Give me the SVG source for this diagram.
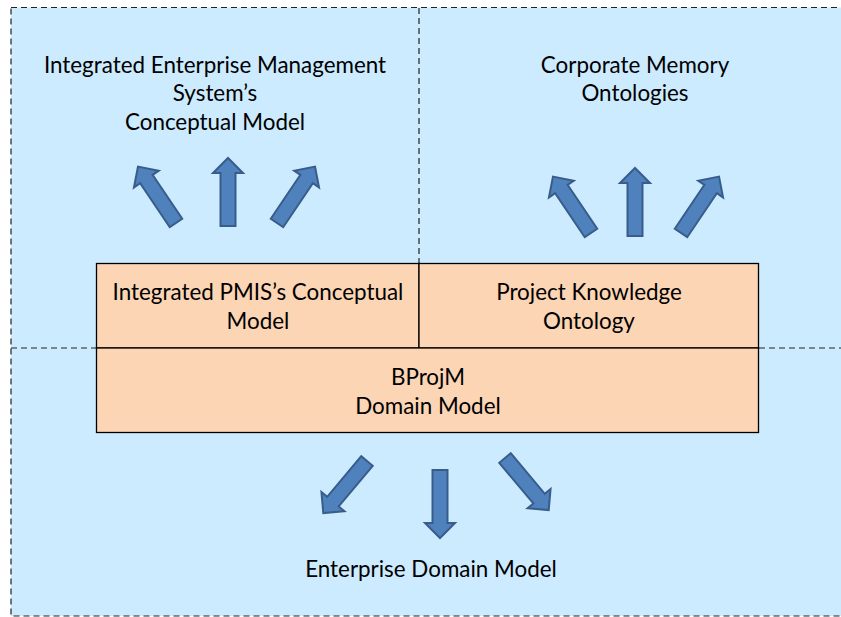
<svg xmlns="http://www.w3.org/2000/svg" width="841" height="617" viewBox="0 0 841 617">
<style>
.dash{fill:none;stroke:#222;stroke-width:1.2;stroke-dasharray:6 4}
.box{fill:#FCD5B5;stroke:#000;stroke-width:1.3}
.t{font-family:Lato,"Open Sans",sans-serif;font-size:22.4px;fill:#000;text-anchor:middle}
.arr{fill:#4F81BD;stroke:#385D8A;stroke-width:2;stroke-linejoin:miter}
</style>
<defs>
<path id="a" class="arr" d="M-7.5,0 L-7.5,-53 L-15,-53 L0,-68 L15,-53 L7.5,-53 L7.5,0 Z"/>
</defs>
<g id="background">
<rect x="11" y="7.5" width="840" height="608.5" class="dash" style="fill:#CCEBFF"/>
<line class="dash" x1="419" y1="8" x2="419" y2="263"/>
<line class="dash" x1="11" y1="348" x2="96" y2="348"/>
<line class="dash" x1="759" y1="348" x2="841" y2="348"/>
</g>
<g id="iems">
<text class="t" x="215" y="73">Integrated Enterprise Management</text>
<text class="t" x="215" y="101">System’s</text>
<text class="t" x="215" y="130">Conceptual Model</text>
</g>
<g id="cmo">
<text class="t" x="635" y="73">Corporate Memory</text>
<text class="t" x="635" y="101">Ontologies</text>
</g>
<g id="pmis">
<rect class="box" x="96.5" y="263.5" width="322.5" height="84.5"/>
<text class="t" x="258" y="300">Integrated PMIS’s Conceptual</text>
<text class="t" x="258" y="329">Model</text>
</g>
<g id="pko">
<rect class="box" x="419" y="263.5" width="339.5" height="84.5"/>
<text class="t" x="589" y="300">Project Knowledge</text>
<text class="t" x="589" y="329">Ontology</text>
</g>
<g id="bprojm">
<rect class="box" x="96.5" y="348" width="662" height="84.5"/>
<text class="t" x="428" y="385">BProjM</text>
<text class="t" x="428" y="414">Domain Model</text>
</g>
<g id="edm">
<text class="t" x="431" y="577">Enterprise Domain Model</text>
</g>
<g id="connectors">
<use href="#a" transform="translate(176,223) rotate(-34)"/>
<use href="#a" transform="translate(228,226)"/>
<use href="#a" transform="translate(277,223) rotate(34)"/>
<use href="#a" transform="translate(591,233) rotate(-34)"/>
<use href="#a" transform="translate(635,236)"/>
<use href="#a" transform="translate(681,233) rotate(34)"/>
<use href="#a" transform="translate(367,461) rotate(220)"/>
<use href="#a" transform="translate(440,470) rotate(180)"/>
<use href="#a" transform="translate(505,458) rotate(140)"/>
</g>
</svg>
